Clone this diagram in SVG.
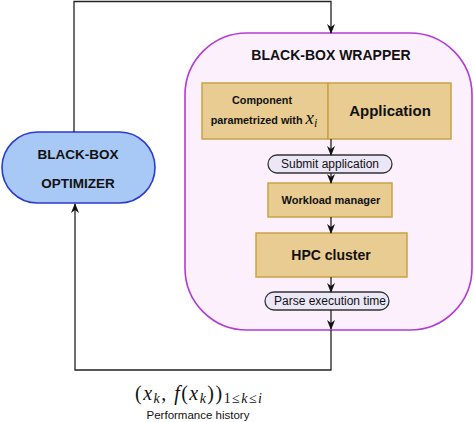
<svg xmlns="http://www.w3.org/2000/svg" width="474" height="422" viewBox="0 0 474 422">
<style>
.b{font-family:"Liberation Sans",Arial,sans-serif;font-weight:bold;fill:#111;text-anchor:middle}
.n{font-family:"Liberation Sans",Arial,sans-serif;fill:#111;text-anchor:middle}
.m{font-family:"Liberation Serif","Times New Roman",serif;fill:#111}
.tan{fill:#e8cc91;stroke:#c8a246;stroke-width:1.5}
.pill{fill:#ebe7f6;stroke:#333;stroke-width:1.3}
.c{fill:none;stroke:#222;stroke-width:1.3}
</style>
<defs>
<marker id="ar" markerWidth="10" markerHeight="8" refX="9" refY="4" orient="auto" markerUnits="userSpaceOnUse">
<path d="M0,0 L10,4 L0,8 L3,4 z" fill="#111"/>
</marker>
</defs>
<rect width="474" height="422" fill="#fff"/>
<g id="wrapper">
<rect x="185" y="33" width="287" height="297" rx="62" ry="62" fill="#fdf0fd" stroke="#b33ad6" stroke-width="1.6"/>
<text class="b" x="331" y="60" font-size="14">BLACK-BOX WRAPPER</text>
</g>
<g id="optimizer">
<rect x="2" y="132" width="153" height="71" rx="35.5" ry="35.5" fill="#a8c8f5" stroke="#2b3bd0" stroke-width="1.6"/>
<text class="b" x="78" y="159" font-size="13.5">BLACK-BOX</text>
<text class="b" x="78" y="188" font-size="13.5">OPTIMIZER</text>
</g>
<g id="component">
<rect class="tan" x="202" y="83" width="126" height="56"/>
<text class="b" x="262" y="104" font-size="10.8">Component</text>
<text class="b" x="264" y="124" font-size="10.8">parametrized with <tspan class="m" font-weight="normal" font-style="italic" font-size="19">x</tspan><tspan class="m" font-weight="normal" font-style="italic" font-size="12" dy="3">i</tspan></text>
</g>
<g id="application">
<rect class="tan" x="328" y="83" width="123" height="56"/>
<text class="b" x="390" y="116" font-size="15">Application</text>
</g>
<g id="submit">
<rect class="pill" x="268" y="155" width="124" height="18" rx="9" ry="9"/>
<text class="n" x="330" y="168" font-size="12">Submit application</text>
</g>
<g id="workload">
<rect class="tan" x="268" y="183" width="124" height="34"/>
<text class="b" x="331" y="204" font-size="11">Workload manager</text>
</g>
<g id="hpc">
<rect class="tan" x="256" y="233" width="151" height="44"/>
<text class="b" x="331" y="260" font-size="14">HPC cluster</text>
</g>
<g id="parse">
<rect class="pill" x="265" y="292" width="124" height="18" rx="9" ry="9"/>
<text class="n" x="330" y="305" font-size="12">Parse execution time</text>
</g>
<g id="connectors">
<path class="c" d="M74,132 L74,1.5 L331,1.5 L331,33" marker-end="url(#ar)"/>
<path class="c" d="M331,139 L331,155" marker-end="url(#ar)"/>
<path class="c" d="M331,173 L331,183" marker-end="url(#ar)"/>
<path class="c" d="M331,217 L331,233" marker-end="url(#ar)"/>
<path class="c" d="M331,277 L331,292" marker-end="url(#ar)"/>
<path class="c" d="M331,310 L331,329" marker-end="url(#ar)"/>
<path class="c" d="M331,330 L331,370 L75,370 L75,204" marker-end="url(#ar)"/>
</g>
<g id="history">
<text class="m" x="135" y="400" font-size="20" textLength="127" lengthAdjust="spacing">(<tspan font-style="italic">x</tspan><tspan font-style="italic" font-size="14" dy="3">k</tspan><tspan dy="-3">, </tspan><tspan font-style="italic">f</tspan>(<tspan font-style="italic">x</tspan><tspan font-style="italic" font-size="14" dy="3">k</tspan><tspan dy="-3">))</tspan><tspan font-size="14" dy="3">1≤<tspan font-style="italic">k</tspan>≤<tspan font-style="italic">i</tspan></tspan></text>
<text class="n" x="198" y="419" font-size="11.5">Performance history</text>
</g>
</svg>
